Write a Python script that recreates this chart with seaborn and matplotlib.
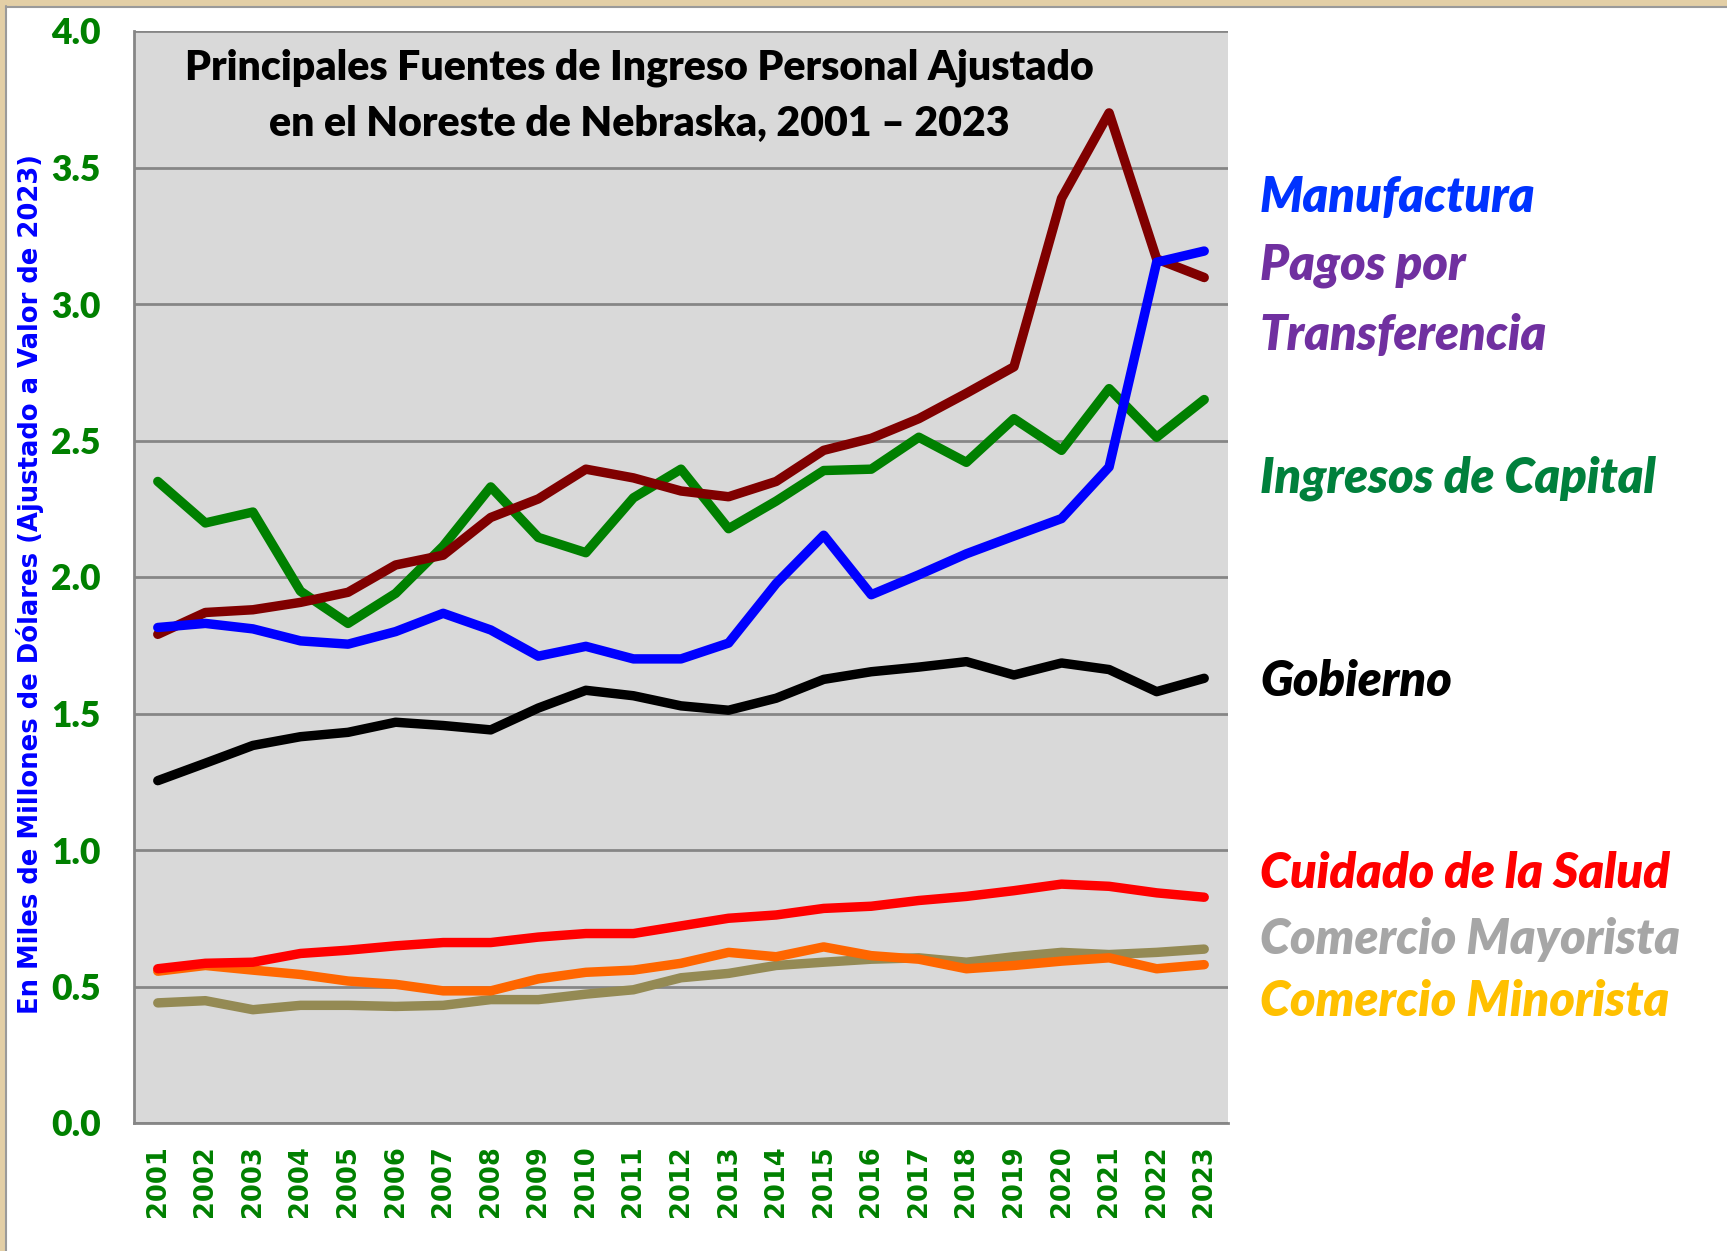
import matplotlib
matplotlib.use("Agg")
import matplotlib.pyplot as plt
import seaborn as sns
import numpy as np
import pandas as pd
from matplotlib.patches import Rectangle
from matplotlib.lines import Line2D

years = [str(y) for y in range(2001, 2024)]

manufactura = [1.815, 1.83, 1.81, 1.766, 1.754, 1.80, 1.867, 1.806, 1.71, 1.746, 1.70, 1.70,
               1.758, 1.976, 2.153, 1.935, 2.008, 2.085, 2.15, 2.214, 2.403, 3.153, 3.194]
transferencia = [1.79, 1.87, 1.88, 1.907, 1.944, 2.044, 2.08, 2.218, 2.286, 2.395, 2.363, 2.315,
                 2.294, 2.35, 2.464, 2.508, 2.58, 2.673, 2.77, 3.387, 3.70, 3.165, 3.097]
capital = [2.35, 2.198, 2.238, 1.948, 1.83, 1.94, 2.113, 2.33, 2.145, 2.089, 2.29, 2.395,
           2.177, 2.278, 2.39, 2.395, 2.512, 2.42, 2.58, 2.464, 2.69, 2.512, 2.65]
gobierno = [1.254, 1.318, 1.383, 1.415, 1.431, 1.468, 1.456, 1.44, 1.52, 1.585, 1.565, 1.528,
            1.512, 1.556, 1.625, 1.653, 1.67, 1.69, 1.641, 1.685, 1.661, 1.58, 1.629]
salud = [0.565, 0.585, 0.589, 0.621, 0.633, 0.649, 0.661, 0.661, 0.681, 0.694, 0.694, 0.722,
         0.75, 0.762, 0.786, 0.794, 0.815, 0.83, 0.851, 0.875, 0.867, 0.843, 0.827]
mayorista = [0.44, 0.448, 0.415, 0.431, 0.431, 0.427, 0.431, 0.452, 0.452, 0.472, 0.488, 0.532,
             0.548, 0.577, 0.589, 0.60, 0.605, 0.589, 0.609, 0.625, 0.617, 0.625, 0.637]
minorista = [0.556, 0.577, 0.56, 0.544, 0.52, 0.508, 0.484, 0.484, 0.528, 0.552, 0.56, 0.585,
             0.625, 0.609, 0.645, 0.613, 0.60, 0.565, 0.577, 0.593, 0.605, 0.565, 0.58]

y_ticks = [0.0, 0.5, 1.0, 1.5, 2.0, 2.5, 3.0, 3.5, 4.0]
y_tick_labels = ["0.0", "0.5", "1.0", "1.5", "2.0", "2.5", "3.0", "3.5", "4.0"]

title_text = "Principales Fuentes de Ingreso Personal Ajustado\nen el Noreste de Nebraska, 2001 \u2013 2023"
ylabel_text = "En Miles de Millones de D\u00f3lares (Ajustado a Valor de 2023)"

# series: (name, values, line colour)  drawn in back-to-front order
series = [
    ("Comercio Mayorista", mayorista, "#948A54"),
    ("Comercio Minorista", minorista, "#FF6600"),
    ("Cuidado de la Salud", salud, "#FF0000"),
    ("Gobierno", gobierno, "#000000"),
    ("Ingresos de Capital", capital, "#008000"),
    ("Pagos por Transferencia", transferencia, "#800000"),
    ("Manufactura", manufactura, "#0000FF"),
]

label_texts = ["Manufactura", "Pagos por", "Transferencia", "Ingresos de Capital", "Gobierno",
               "Cuidado de la Salud", "Comercio Mayorista", "Comercio Minorista"]
label_colors = ["#0033FF", "#7030A0", "#7030A0", "#00803C", "#000000",
                "#FF0000", "#A6A6A6", "#FFC000"]

sns.set_theme(style="white")
plt.rcParams['font.family'] = ['Lato', 'DejaVu Sans']

W, H = 1727, 1251
fig = plt.figure(figsize=(W / 100, H / 100), dpi=100)
fig.patch.set_facecolor("white")

left, right, top, bottom = 134, 1228, 31, 1123
ax = fig.add_axes([left / W, 1 - bottom / H, (right - left) / W, (bottom - top) / H])
ax.set_facecolor("#D9D9D9")

x_idx = np.arange(len(years))
for name, vals, col in series:
    df = pd.DataFrame({"x": x_idx, "y": vals})
    sns.lineplot(data=df, x="x", y="y", color=col, linewidth=6.8, ax=ax,
                 solid_capstyle="round", solid_joinstyle="round", zorder=3)

ax.set_xlim(-0.5, len(years) - 0.5)
ax.set_ylim(0, 4.0)
ax.set_yticks(y_ticks)
ax.set_yticklabels(y_tick_labels)
ax.yaxis.grid(True, color="#868686", linewidth=2.0, zorder=1)
ax.xaxis.grid(False)
ax.set_axisbelow(True)

ax.set_xticks(x_idx)
ax.set_xticklabels(years, rotation=90, fontfamily="DejaVu Sans", fontweight="bold",
                   fontsize=18.5, color="#008000")
ax.set_xticks(np.arange(-0.5, len(years), 1.0), minor=True)
ax.tick_params(axis="x", which="major", length=0, pad=16)
ax.tick_params(axis="x", which="minor", length=9, width=1.8, color="#868686", direction="out")
ax.tick_params(axis="y", which="major", length=12, width=1.8, color="#868686", direction="out",
               labelsize=25.5, labelcolor="#008000", pad=12)
for lab in ax.get_yticklabels():
    lab.set_fontweight("heavy")
    lab.set_fontfamily("Lato")

for s in ["top", "right"]:
    ax.spines[s].set_visible(False)
for s in ["left", "bottom"]:
    ax.spines[s].set_color("#868686")
    ax.spines[s].set_linewidth(2.0)

ax.set_xlabel("")
ax.set_ylabel("")

fig.text(30 / W, 1 - 584 / H, ylabel_text, rotation=90, ha="center", va="center",
         fontfamily="DejaVu Sans", fontweight="bold", fontsize=18.6, color="#0000FF")

fig.text(639 / W, 1 - 96 / H, title_text, ha="center", va="center", fontfamily="Lato",
         fontweight="heavy", fontsize=29.5, color="#000000", linespacing=1.58)

label_y = [198, 265, 336, 478, 682, 873, 939, 1001]
for t, c, yy in zip(label_texts, label_colors, label_y):
    fig.text(1260 / W, 1 - yy / H, t, ha="left", va="center", fontfamily="Lato",
             fontweight="heavy", fontstyle="italic", fontsize=35, color=c)

# parchment frame along top and left edges
fig.patches.append(Rectangle((0, 0), 5 / W, 1, transform=fig.transFigure,
                             facecolor="#E3CFA6", edgecolor="none", zorder=10))
fig.patches.append(Rectangle((0, 1 - 6 / H), 1, 6 / H, transform=fig.transFigure,
                             facecolor="#E3CFA6", edgecolor="none", zorder=10))
fig.lines.append(Line2D([5.5 / W, 5.5 / W], [0, 1 - 6 / H], transform=fig.transFigure,
                        color="#9A9A9A", linewidth=1.5, zorder=11))
fig.lines.append(Line2D([5.5 / W, 1], [1 - 6.5 / H, 1 - 6.5 / H], transform=fig.transFigure,
                        color="#9A9A9A", linewidth=1.5, zorder=11))

fig.savefig("out.png", dpi=100, facecolor=fig.get_facecolor())
